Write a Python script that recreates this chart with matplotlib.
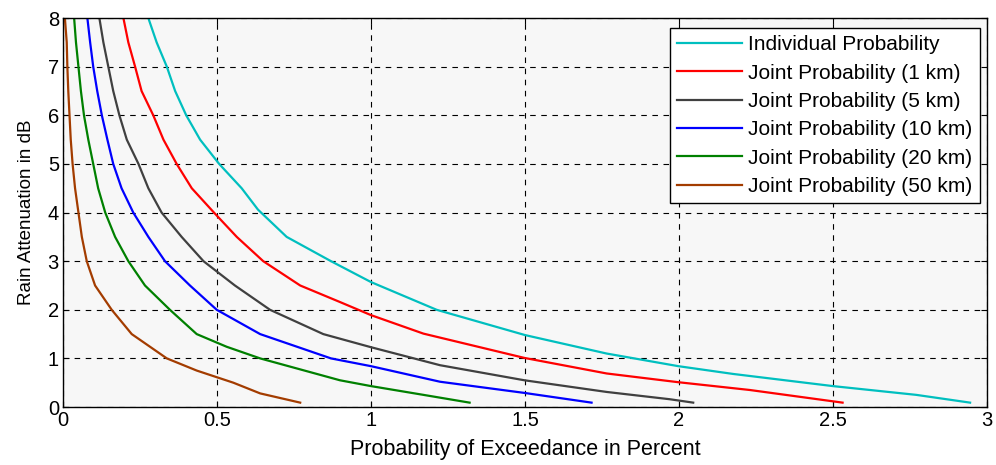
import matplotlib
matplotlib.use("Agg")
import matplotlib.pyplot as plt

plt.rcParams['font.family'] = ['Liberation Sans', 'DejaVu Sans']

# --- DATA ---
# rain attenuation (dB) vs probability of exceedance (%) for each curve
indiv_y = [8, 7.5, 7, 6.5, 6, 5.5, 5, 4.5, 4.06, 3.5, 3, 2.57, 2.0, 1.48, 1.1, 0.84, 0.68, 0.43, 0.25, 0.09]
indiv_x = [0.277, 0.304, 0.337, 0.364, 0.40, 0.445, 0.507, 0.58, 0.633, 0.726, 0.87, 1.0, 1.213, 1.5,
           1.765, 1.998, 2.176, 2.5, 2.77, 2.945]

km1_y = [8, 7.5, 7, 6.5, 6, 5.5, 5, 4.5, 4, 3.5, 3, 2.5, 2.16, 1.89, 1.51, 1.01, 0.69, 0.51, 0.35, 0.09]
km1_x = [0.196, 0.212, 0.234, 0.255, 0.293, 0.326, 0.369, 0.418, 0.49, 0.564, 0.65, 0.77, 0.899, 1.0,
         1.17, 1.498, 1.765, 1.998, 2.23, 2.531]

km5_y = [8, 7.5, 7, 6.5, 6, 5.5, 5, 4.5, 4, 3.5, 3, 2.5, 2, 1.5, 1.23, 0.86, 0.55, 0.31, 0.16, 0.09]
km5_x = [0.118, 0.131, 0.147, 0.163, 0.183, 0.207, 0.245, 0.277, 0.32, 0.385, 0.456, 0.558, 0.672, 0.845,
         1.0, 1.224, 1.498, 1.765, 1.97, 2.046]

km10_y = [8, 7.5, 7, 6.5, 6, 5.5, 5, 4.5, 4, 3.5, 3, 2.5, 2, 1.5, 1.0, 0.84, 0.52, 0.29, 0.09]
km10_x = [0.079, 0.088, 0.098, 0.111, 0.126, 0.144, 0.163, 0.19, 0.228, 0.277, 0.331, 0.412, 0.499, 0.64,
          0.87, 1.0, 1.224, 1.498, 1.716]

km20_y = [8, 7.5, 7, 6.5, 6, 5.5, 5, 4.5, 4, 3.5, 3, 2.5, 2, 1.5, 1.24, 1.0, 0.55, 0.43, 0.25, 0.09]
km20_x = [0.036, 0.042, 0.05, 0.058, 0.068, 0.082, 0.098, 0.114, 0.137, 0.169, 0.212, 0.266, 0.347, 0.434,
          0.531, 0.64, 0.899, 1.0, 1.17, 1.32]

km50_y = [8, 7.5, 7, 6.5, 6, 5.5, 5, 4.5, 4, 3.5, 3, 2.5, 2, 1.5, 1.0, 0.75, 0.5, 0.28, 0.09]
km50_x = [0.006, 0.012, 0.014, 0.017, 0.021, 0.025, 0.031, 0.039, 0.05, 0.061, 0.077, 0.104, 0.158, 0.223,
          0.337, 0.434, 0.553, 0.64, 0.77]

labels = ["Individual Probability", "Joint Probability (1 km)", "Joint Probability (5 km)",
          "Joint Probability (10 km)", "Joint Probability (20 km)", "Joint Probability (50 km)"]
colors = ["#00bfbf", "#ff0000", "#404040", "#0000ff", "#008000", "#a33c00"]

x_ticks = [0, 0.5, 1, 1.5, 2, 2.5, 3]
x_ticklabels = ["0", "0.5", "1", "1.5", "2", "2.5", "3"]

# --- PLOT ---
fig = plt.figure(figsize=(9.96, 4.65), dpi=100)
ax = fig.add_axes([0.0633, 0.1247, 0.9277, 0.8363])
ax.set_facecolor("#f7f7f7")

series = [(indiv_x, indiv_y), (km1_x, km1_y), (km5_x, km5_y),
          (km10_x, km10_y), (km20_x, km20_y), (km50_x, km50_y)]
for (xs, ys), lab, c in zip(series, labels, colors):
    ax.plot(xs, ys, color=c, lw=1.6, label=lab)

ax.set_xlim(0, 3)
ax.set_ylim(0, 8)
ax.set_xticks(x_ticks)
ax.set_xticklabels(x_ticklabels)
ax.set_yticks(range(0, 9))
ax.grid(True, color="black", linestyle=(0, (5, 5)), lw=0.8)
ax.tick_params(direction="in", top=True, right=True, labelsize=14.5, length=4, pad=3)
for s in ax.spines.values():
    s.set_linewidth(1.0)

ax.set_xlabel("Probability of Exceedance in Percent", fontsize=15.5, labelpad=6)
ax.set_ylabel("Rain Attenuation in dB", fontsize=13.5, labelpad=9)

leg = ax.legend(loc="upper right", bbox_to_anchor=(0.992, 0.975), fontsize=15,
                fancybox=False, framealpha=1, edgecolor="black", borderpad=0.35,
                labelspacing=0.45, handlelength=3.1, handletextpad=0.3, borderaxespad=0)
leg.get_frame().set_linewidth(1.0)

fig.savefig("out.png", dpi=100)
